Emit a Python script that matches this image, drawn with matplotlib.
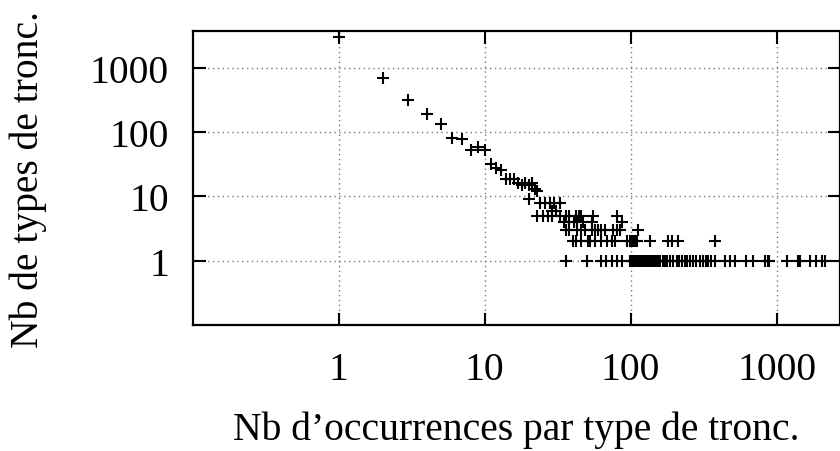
import numpy as np
import matplotlib
matplotlib.use('Agg')
import matplotlib.pyplot as plt

plt.rcParams['font.family'] = ['Liberation Serif', 'DejaVu Serif']

# steep head of the distribution
occ_head = [1, 2, 3, 4, 5, 6, 7, 8, 9, 10, 11, 12, 13, 14, 15, 16, 17, 18, 19, 20, 21, 22, 23, 20]
types_head = [3100, 705, 320, 192, 135, 80, 78, 52, 58, 52, 32, 28, 26, 19, 19, 19, 16, 15, 16, 15, 16, 13, 12, 9]

# tail, grouped by number of types
occ_8 = [24, 26, 28, 30, 33]
occ_6 = [29, 31]
occ_5 = [23, 25, 27, 29, 33, 36, 38, 42, 44, 46, 55, 80]
occ_4 = [35, 38, 41, 43, 47, 54, 87]
occ_3 = [36, 38, 43, 46, 49, 54, 57, 60, 63, 67, 76, 80, 85, 113]
occ_2 = [40, 42, 46, 51, 53, 57, 63, 69, 74, 78, 94, 99, 102, 104, 107, 110,
         135, 181, 191, 211, 378]
occ_1 = [36, 50, 63, 68, 74, 80, 87, 99, 101, 103, 105, 107, 109, 111, 113, 115,
         117, 119, 121, 124, 127, 130, 133, 136, 139, 142, 146, 150, 155, 160, 166,
         172, 178, 185, 196, 207, 215, 224, 235, 245, 256, 268, 280, 297, 314, 327,
         340, 356, 377, 440, 478, 520, 620, 692, 830, 870, 890, 1170, 1410, 1440,
         1690, 1850, 2030, 2130]

x = list(occ_head)
y = list(types_head)
for val, occ in [(8, occ_8), (6, occ_6), (5, occ_5), (4, occ_4), (3, occ_3), (2, occ_2), (1, occ_1)]:
    x += occ
    y += [val] * len(occ)

fig = plt.figure(figsize=(8.4, 4.52), dpi=100)
ax = fig.add_axes([192.7/840, 1-325.7/452, (840-192.7)/840, (325.7-31.7)/452])

ax.plot(x, y, '+', color='black', markersize=8, markeredgewidth=1.5, clip_on=False)

ax.set_xscale('log')
ax.set_yscale('log')
ax.set_xlim(0.1, 2715)
ax.set_ylim(0.1, 3826)

ax.set_xticks([1, 10, 100, 1000])
ax.set_xticklabels(['1', '10', '100', '1000'])
ax.set_yticks([1, 10, 100, 1000])
ax.set_yticklabels(['1', '10', '100', '1000'])
ax.minorticks_off()

fs = 28.5
ax.tick_params(which='major', direction='in', length=9, width=1.5,
               top=True, right=True, labelsize=fs)
ax.tick_params(axis='y', pad=17)
ax.tick_params(axis='x', pad=19)

ax.grid(True, color='#777777', linestyle=(0, (1, 2.5)), linewidth=1.0)
for s in ax.spines.values():
    s.set_linewidth(1.6)

fig.text(28/840, 1-179/452, 'Nb de types de tronc.', rotation=90,
         ha='center', va='center', fontsize=fs)
fig.text(516/840, 1-430/452, 'Nb d\u2019occurrences par type de tronc.',
         ha='center', va='center', fontsize=fs)

plt.savefig('out.png', dpi=100)
